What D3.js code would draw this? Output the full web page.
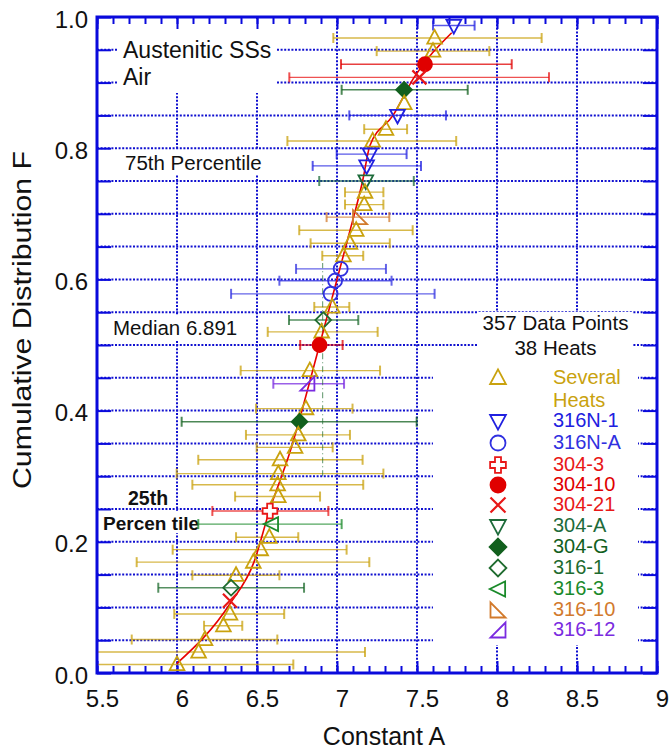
<!DOCTYPE html>
<html>
<head>
<meta charset="utf-8">
<script src="https://cdn.jsdelivr.net/npm/d3@7"></script>
<style>
  body { margin: 0; background: #fff; }
  text { font-family: "Liberation Sans", Arial, Helvetica, sans-serif; }
</style>
</head>
<body>
<svg id="chart" width="669" height="749"></svg>
<script>
// ---- data -------------------------------------------------------------
// Series shown in the legend (order of the legend)
const seriesNames = ["Several Heats", "316N-1", "316N-A", "304-3", "304-10", "304-21",
                     "304-A", "304-G", "316-1", "316-3", "316-10", "316-12"];

// One entry per heat, ranked from the largest A down to the smallest
const pointSeries = [
  "316N-1", "Several Heats", "Several Heats", "304-10", "304-21", "304-G", "Several Heats",
  "316N-1", "Several Heats", "Several Heats", "316N-1", "316N-1", "304-A", "Several Heats",
  "Several Heats", "316-10", "Several Heats", "Several Heats", "Several Heats", "316N-A",
  "316N-A", "316N-A", "Several Heats", "316-1", "Several Heats", "304-10", "Several Heats",
  "316-12", "Several Heats", "304-G", "Several Heats", "Several Heats", "Several Heats",
  "Several Heats", "Several Heats", "Several Heats", "304-3", "316-3", "Several Heats",
  "Several Heats", "Several Heats", "Several Heats", "316-1", "304-21", "Several Heats",
  "Several Heats", "Several Heats", "Several Heats", "Several Heats"
];
// Constant A of each heat
const pointA = [
  7.73, 7.61, 7.60, 7.55, 7.515, 7.419, 7.42,
  7.378, 7.306, 7.223, 7.206, 7.185, 7.18, 7.175,
  7.17, 7.144, 7.12, 7.081, 7.04, 7.023,
  6.988, 6.96, 6.97, 6.914, 6.904, 6.891, 6.83,
  6.815, 6.806, 6.766, 6.758, 6.738, 6.644,
  6.633, 6.629, 6.633, 6.581, 6.59, 6.577,
  6.523, 6.477, 6.369, 6.338, 6.331, 6.331,
  6.29, 6.175, 6.135, 6.0
];
// Cumulative distribution F of each heat
const pointF = [
  0.987, 0.968, 0.948, 0.928, 0.908, 0.889, 0.868,
  0.850, 0.829, 0.811, 0.791, 0.773, 0.750, 0.733,
  0.714, 0.695, 0.675, 0.655, 0.636, 0.616,
  0.598, 0.578, 0.558, 0.538, 0.520, 0.500, 0.461,
  0.441, 0.403, 0.383, 0.363, 0.344, 0.325,
  0.304, 0.287, 0.269, 0.247, 0.227, 0.207,
  0.188, 0.169, 0.149, 0.130, 0.110, 0.090,
  0.072, 0.051, 0.032, 0.013
];
// Scatter range (low / high A) of each heat; null = no bar
const barLow = [
  7.60, 6.977, 7.248, 7.025, 6.702, 7.029, null,
  7.077, 7.17, 6.69, 6.998, 6.848, 6.889, 7.05,
  7.05, 6.935, 6.764, 6.835, 6.908, 6.744,
  6.64, 6.338, 6.858, 6.70, 6.567, 6.77, 6.398,
  6.602, 6.494, 6.029, 6.431, 6.498, 6.133,
  5.998, 6.096, 6.363, 6.221, 6.133, 6.369,
  5.973, 5.748, 6.096, 5.883, null, 5.983,
  6.169, 5.717, 5.505, 5.505
];
const barHigh = [
  7.86, 8.279, 7.952, 8.092, 8.325, 7.817, null,
  7.681, 7.438, 7.745, 7.435, 7.525, 7.48, 7.29,
  7.29, 7.327, 7.473, 7.33, 7.164, 7.306,
  7.341, 7.61, 7.077, 7.133, 7.254, 7.035, 7.269,
  7.044, 7.097, 7.498, 7.081, 6.973, 7.16,
  7.29, 7.164, 6.894, 6.946, 7.029, 6.758,
  7.06, 7.202, 6.64, 6.794, null, 6.67,
  6.408, 6.627, 7.175, 6.727
];

// Fitted distribution curve (A, F)
const fitA = [5.998, 6.331, 6.481, 6.577, 6.706, 6.891, 7.071, 7.16, 7.206, 7.35, 7.477, 7.717];
const fitF = [0.0142, 0.1056, 0.169, 0.247, 0.337, 0.500, 0.665, 0.75, 0.804, 0.85, 0.906, 0.976];

// Vertical range drawn for heat 316-1
const rangeLineA = 6.91;
const rangeLineF = [0.30, 0.625];

// Axis ticks
const xTickValues = [5.5, 6, 6.5, 7, 7.5, 8, 8.5, 9];
const xTickLabels = ["5.5", "6", "6.5", "7", "7.5", "8", "8.5", "9"];
const yTickValues = [0, 0.2, 0.4, 0.6, 0.8, 1.0];
const yTickLabels = ["0.0", "0.2", "0.4", "0.6", "0.8", "1.0"];

const medianValue = 6.891;
const totalPoints = 357;
const totalHeats = 38;

// ---- styles -----------------------------------------------------------
const seriesColor = {
  "Several Heats": "#C9A20E", "316N-1": "#2020E0", "316N-A": "#3030E0",
  "304-3": "#E81818", "304-10": "#E00000", "304-21": "#E81818",
  "304-A": "#1D6B3A", "304-G": "#12601E", "316-1": "#1E6B2E",
  "316-3": "#1A8A2A", "316-10": "#D27A2C", "316-12": "#7A2BE0"
};
const seriesMarker = {
  "Several Heats": "triUp", "316N-1": "triDown", "316N-A": "circle", "304-3": "plus",
  "304-10": "dot", "304-21": "cross", "304-A": "triDown", "304-G": "diamondFill",
  "316-1": "diamond", "316-3": "triLeft", "316-10": "rtBL", "316-12": "rtBR"
};
const legendLabel = {
  "Several Heats": ["Several", "Heats"]
};
const axisBlue = "#0A0ADC";
const gridBlue = "#1010D0";

function markerPath(type, s) {
  switch (type) {
    case "triUp":   return `M0,${-s * 1.15}L${s * 1.05},${s * 0.8}L${-s * 1.05},${s * 0.8}Z`;
    case "triDown": return `M0,${s * 1.15}L${s * 1.05},${-s * 0.8}L${-s * 1.05},${-s * 0.8}Z`;
    case "circle":
    case "dot":     return `M${s},0A${s},${s} 0 1,1 ${-s},0A${s},${s} 0 1,1 ${s},0Z`;
    case "plus": {
      const a = s * 0.4, L = s * 1.05;
      return `M${-a},${-L}H${a}V${-a}H${L}V${a}H${a}V${L}H${-a}V${a}H${-L}V${-a}H${-a}Z`;
    }
    case "cross":   return `M${-s},${-s}L${s},${s}M${-s},${s}L${s},${-s}`;
    case "diamond":
    case "diamondFill": return `M0,${-s * 1.12}L${s * 1.12},0L0,${s * 1.12}L${-s * 1.12},0Z`;
    case "triLeft": return `M${-s * 1.1},0L${s * 0.95},${-s}L${s * 0.95},${s}Z`;
    case "rtBL":    return `M${-s},${-s}L${-s},${s}L${s},${s}Z`;
    case "rtBR":    return `M${s},${-s}L${s},${s}L${-s},${s}Z`;
  }
}
function markerFill(type, color) {
  if (type === "dot" || type === "diamondFill") return color;
  if (type === "plus") return "#fff";
  return "none";
}

// ---- layout -----------------------------------------------------------
const svg = d3.select("#chart");
const L = 97, R = 657, T = 17, B = 673;
const x = d3.scaleLinear().domain([5.5, 9]).range([L, R]);
const y = d3.scaleLinear().domain([0, 1]).range([B, T]);

svg.append("rect").attr("width", 669).attr("height", 749).attr("fill", "#fff");

// dotted grid
const grid = svg.append("g")
  .attr("stroke", gridBlue).attr("stroke-width", 2).attr("stroke-dasharray", "2,1.6");
grid.selectAll("line.h")
  .data(y.ticks(20).filter(v => v > 0.001 && v < 0.999))
  .join("line").attr("class", "h")
  .attr("x1", L).attr("x2", R).attr("y1", d => y(d)).attr("y2", d => y(d));
grid.selectAll("line.v")
  .data(x.ticks(7).filter(v => v > 5.5 && v < 9))
  .join("line").attr("class", "v")
  .attr("y1", T).attr("y2", B).attr("x1", d => x(d)).attr("x2", d => x(d));

// white boxes behind annotation text
const boxes = [
  [117, 19, 160, 74],      // Austenitic SSs / Air
  [119, 150, 150, 24],     // 75th Percentile
  [108, 315, 135, 26],     // Median
  [100, 511, 102, 22],     // Percen tile
  [478, 312, 155, 48],     // counts
  [433, 360, 205, 285]     // legend
];
svg.append("g").selectAll("rect").data(boxes).join("rect")
  .attr("x", d => d[0]).attr("y", d => d[1]).attr("width", d => d[2]).attr("height", d => d[3])
  .attr("fill", "#fff");

// axes (ticks point inward)
function styleAxis(g) {
  g.select(".domain").remove();
  g.selectAll(".tick line").attr("stroke", axisBlue).attr("stroke-width", 2);
}
svg.append("g").attr("transform", `translate(0,${B})`)
  .call(d3.axisBottom(x).ticks(35).tickSize(-7).tickFormat("")).call(styleAxis);
svg.append("g").attr("transform", `translate(0,${T})`)
  .call(d3.axisTop(x).ticks(35).tickSize(-7).tickFormat("")).call(styleAxis);
svg.append("g").attr("transform", `translate(0,${T})`)
  .call(d3.axisTop(x).tickValues(xTickValues).tickSize(-12).tickFormat("")).call(styleAxis);
const gxb = svg.append("g").attr("transform", `translate(0,${B})`)
  .call(d3.axisBottom(x).tickValues(xTickValues).tickSize(-12).tickPadding(17)
    .tickFormat((d, i) => xTickLabels[i]))
  .call(styleAxis);
gxb.selectAll("text").attr("font-size", 24).attr("fill", "#111")
  .attr("font-family", "'Liberation Sans', Arial, sans-serif").attr("dx", 5);

svg.append("g").attr("transform", `translate(${L},0)`)
  .call(d3.axisLeft(y).ticks(20).tickSize(-14).tickFormat("")).call(styleAxis);
svg.append("g").attr("transform", `translate(${R},0)`)
  .call(d3.axisRight(y).ticks(20).tickSize(-14).tickFormat("")).call(styleAxis);
const gyl = svg.append("g").attr("transform", `translate(${L},0)`)
  .call(d3.axisLeft(y).tickValues(yTickValues).tickSize(0).tickPadding(9)
    .tickFormat((d, i) => yTickLabels[i]))
  .call(styleAxis);
gyl.selectAll("text").attr("font-size", 24).attr("fill", "#111")
  .attr("font-family", "'Liberation Sans', Arial, sans-serif").attr("dy", "0.42em");

// axis titles
svg.append("text").attr("x", 384).attr("y", 745).attr("text-anchor", "middle")
  .attr("font-size", 25).attr("fill", "#111").text("Constant A");
svg.append("text").attr("transform", "translate(31,320) rotate(-90)")
  .attr("text-anchor", "middle").attr("font-size", 25).attr("fill", "#111")
  .attr("textLength", 338).attr("lengthAdjust", "spacingAndGlyphs")
  .text("Cumulative Distribution F");

// annotations
const ann = svg.append("g").attr("fill", "#111");
ann.append("text").attr("x", 123).attr("y", 58).attr("font-size", 23).text("Austenitic SSs");
ann.append("text").attr("x", 123).attr("y", 85).attr("font-size", 23).text("Air");
ann.append("text").attr("x", 125).attr("y", 170).attr("font-size", 20.5).text("75th Percentile");
ann.append("text").attr("x", 113).attr("y", 335).attr("font-size", 20.5).text(`Median ${medianValue}`);
ann.append("text").attr("x", 128).attr("y", 505).attr("font-size", 19.5).attr("font-weight", "bold").text("25th");
ann.append("text").attr("x", 103).attr("y", 530).attr("font-size", 19).attr("font-weight", "bold").text("Percen tile");

// ---- data marks -------------------------------------------------------
const pts = pointA.map((a, i) => ({
  a, f: pointF[i], s: pointSeries[i], lo: barLow[i], hi: barHigh[i]
}));

// scatter bars
const bars = svg.append("g").attr("stroke-width", 1.4).attr("stroke-opacity", 0.75);
pts.filter(p => p.lo !== null).forEach(p => {
  const g = bars.append("g").attr("stroke", seriesColor[p.s]);
  const yy = y(p.f);
  g.append("line").attr("x1", x(p.lo)).attr("x2", x(p.hi)).attr("y1", yy).attr("y2", yy);
  [p.lo, p.hi].forEach(v => {
    if (v > 5.51 && v < 8.99)
      g.append("line").attr("x1", x(v)).attr("x2", x(v)).attr("y1", yy - 5).attr("y2", yy + 5)
        .attr("stroke-width", 2);
  });
});

// vertical range line of 316-1
svg.append("line")
  .attr("x1", x(rangeLineA)).attr("x2", x(rangeLineA))
  .attr("y1", y(rangeLineF[0])).attr("y2", y(rangeLineF[1]))
  .attr("stroke", seriesColor["316-1"]).attr("stroke-opacity", 0.6)
  .attr("stroke-width", 1.2).attr("stroke-dasharray", "6,3,1,3");

// fitted distribution
svg.append("path")
  .datum(fitA.map((a, i) => [a, fitF[i]]))
  .attr("d", d3.line().x(d => x(d[0])).y(d => y(d[1])).curve(d3.curveMonotoneX))
  .attr("fill", "none").attr("stroke", "#E80000").attr("stroke-width", 1.6);

// markers
svg.append("g").selectAll("path").data(pts).join("path")
  .attr("transform", p => `translate(${x(p.a)},${y(p.f)})`)
  .attr("d", p => markerPath(seriesMarker[p.s], 7))
  .attr("fill", p => markerFill(seriesMarker[p.s], seriesColor[p.s]))
  .attr("stroke", p => seriesColor[p.s])
  .attr("stroke-width", p => seriesMarker[p.s] === "cross" ? 2.2 : 1.8)
  .attr("stroke-linejoin", "miter");

// ---- legend -----------------------------------------------------------
svg.append("text").attr("x", 555.5).attr("y", 330).attr("text-anchor", "middle")
  .attr("font-size", 20.5).attr("fill", "#111").text(`${totalPoints} Data Points`);
svg.append("text").attr("x", 555.5).attr("y", 355).attr("text-anchor", "middle")
  .attr("font-size", 20.5).attr("fill", "#111").text(`${totalHeats} Heats`);

const legendRowY = [378, 421, 443, 465, 485, 505, 526, 547, 568, 589, 610, 630];
const leg = svg.append("g");
seriesNames.forEach((name, i) => {
  const cy = legendRowY[i];
  const type = seriesMarker[name], col = seriesColor[name];
  leg.append("path").attr("transform", `translate(498,${cy})`)
    .attr("d", markerPath(type, 7.5))
    .attr("fill", markerFill(type, col)).attr("stroke", col)
    .attr("stroke-width", type === "cross" ? 2.2 : 1.8);
  const lines = legendLabel[name] || [name];
  lines.forEach((t, k) => {
    leg.append("text").attr("x", 553).attr("y", cy + 6 + k * 23)
      .attr("font-size", 20).attr("fill", col).text(t);
  });
});

// frame
svg.append("rect").attr("x", L).attr("y", T).attr("width", R - L).attr("height", B - T)
  .attr("fill", "none").attr("stroke", axisBlue).attr("stroke-width", 3);
</script>
</body>
</html>
